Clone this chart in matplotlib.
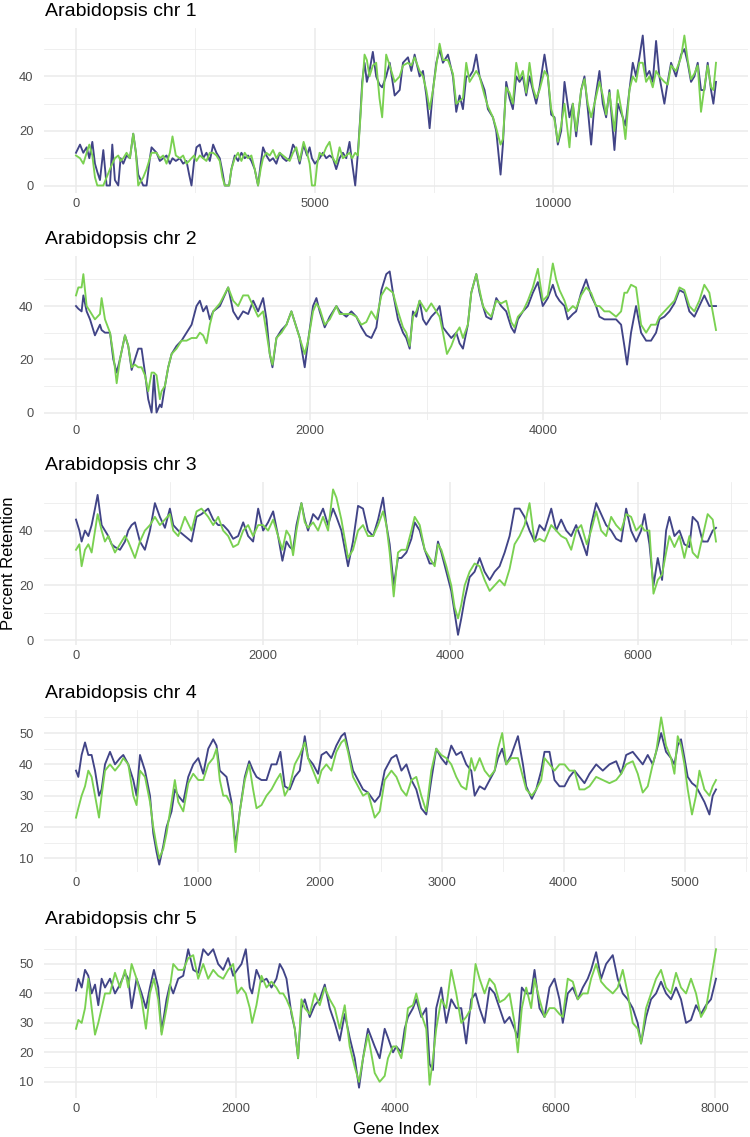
import matplotlib
matplotlib.use("Agg")
import matplotlib.pyplot as plt
from matplotlib.ticker import FixedLocator

plt.rcParams['font.family'] = ['Liberation Sans', 'DejaVu Sans']

BLUE = '#414487'
GREEN = '#7AD151'

# ---- chr 1 ----
chr1_idx = [0, 84, 153, 223, 279, 342, 397, 446, 502, 572, 641, 711, 760, 815, 885, 934, 990, 1059,
            1129, 1199, 1255, 1303, 1408, 1478, 1547, 1582, 1687, 1756, 1826, 1896, 1966, 2021, 2091,
            2175, 2244, 2314, 2370, 2419, 2474, 2523, 2593, 2663, 2732, 2802, 2872, 2941, 3011, 3067,
            3116, 3206, 3255, 3325, 3394, 3464, 3534, 3603, 3673, 3743, 3813, 3868, 3917, 3987, 4057,
            4126, 4196, 4266, 4336, 4405, 4475, 4545, 4614, 4684, 4767, 4837, 4893, 4941, 5004, 5053,
            5102, 5171, 5241, 5311, 5381, 5450, 5520, 5590, 5660, 5729, 5785, 5848, 5904, 5953, 5994,
            6043, 6092, 6147, 6217, 6287, 6356, 6412, 6496, 6570, 6674, 6779, 6848, 6953, 7023, 7092,
            7197, 7267, 7337, 7406, 7476, 7546, 7615, 7685, 7790, 7895, 7964, 8034, 8104, 8173, 8243,
            8313, 8383, 8452, 8557, 8627, 8732, 8801, 8892, 8941, 9010, 9080, 9150, 9220, 9289, 9359,
            9429, 9498, 9568, 9638, 9708, 9812, 9882, 9952, 10022, 10091, 10161, 10231, 10335, 10405,
            10475, 10580, 10649, 10719, 10789, 10859, 10963, 11033, 11103, 11172, 11277, 11347, 11451,
            11507, 11591, 11661, 11730, 11800, 11870, 11940, 12009, 12079, 12149, 12218, 12323, 12393,
            12463, 12567, 12672, 12742, 12811, 12881, 12951, 13021, 13090, 13160, 13230, 13300, 13349,
            13404]
chr1_blue = [12, 15, 12, 14, 10, 16, 8, 5, 2, 13, 0, 0, 15, 2, 0, 10, 8, 11,
             10, 19, 12, 4, 0, 0, 10, 14, 12, 9, 10, 11, 8, 10, 9,
             10, 8, 9, 4, 0, 9, 14, 15, 10, 12, 9, 15, 12, 10, 5,
             0, 0, 6, 11, 9, 12, 10, 11, 9, 6, 0, 8, 14, 11, 9,
             10, 8, 12, 10, 9, 10, 15, 13, 8, 15, 11, 14, 10, 8, 9,
             10, 12, 10, 11, 10, 6, 10, 12, 10, 16, 8, 0, 12, 25, 38,
             45, 38, 42, 49, 40, 37, 36, 40, 45, 33, 35, 45, 47, 42, 48,
             40, 42, 33, 21, 35, 45, 50, 45, 48, 40, 27, 33, 28, 40, 40,
             42, 48, 40, 35, 28, 25, 20, 4, 15, 38, 32, 28, 40, 38, 40,
             33, 40, 35, 30, 36, 48, 40, 26, 25, 15, 20, 38, 25, 30,
             18, 35, 40, 28, 15, 30, 42, 30, 25, 35, 13, 30, 25,
             22, 35, 45, 40, 47, 55, 40, 42, 38, 53, 40, 30, 38,
             45, 40, 48, 50, 45, 38, 40, 45, 35, 35, 45, 35, 30,
             38]
chr1_green = [11, 10, 8, 12, 15, 11, 3, 0, 0, 0, 3, 6, 8, 10, 11, 9, 10, 12,
              10, 19, 12, 0, 3, 6, 10, 12, 12, 10, 11, 8, 12, 18, 11,
              10, 11, 8, 9, 10, 11, 9, 11, 10, 9, 12, 12, 11, 9, 3,
              0, 0, 6, 10, 12, 9, 12, 10, 11, 6, 0, 6, 10, 12, 11,
              13, 10, 12, 11, 10, 9, 12, 14, 9, 16, 12, 8, 0, 0, 8,
              12, 11, 14, 16, 10, 8, 14, 10, 11, 12, 10, 12, 11, 24, 36,
              48, 46, 40, 44, 45, 32, 25, 48, 44, 38, 40, 44, 45, 44, 47,
              42, 40, 35, 28, 35, 44, 52, 46, 46, 41, 30, 31, 32, 45, 38,
              40, 42, 40, 33, 29, 25, 21, 15, 17, 36, 34, 30, 45, 39, 42,
              34, 45, 36, 32, 35, 42, 40, 28, 24, 16, 22, 30, 14, 30,
              20, 35, 39, 30, 25, 30, 38, 33, 26, 34, 20, 35, 25,
              17, 35, 40, 38, 45, 45, 38, 40, 36, 42, 40, 38, 37,
              44, 42, 47, 55, 46, 39, 41, 44, 27, 36, 44, 36, 35,
              45]

# ---- chr 2 ----
chr2_idx = [0, 20, 48, 63, 91, 120, 162, 205, 219, 248, 291, 319, 348, 376, 419, 447, 476, 504, 533,
            561, 590, 618, 647, 667, 689, 718, 732, 761, 789, 818, 860, 903, 946, 989, 1031, 1060,
            1088, 1117, 1145, 1174, 1231, 1302, 1345, 1387, 1430, 1473, 1516, 1558, 1601, 1630, 1658,
            1681, 1715, 1758, 1801, 1843, 1886, 1915, 1957, 1986, 2028, 2057, 2085, 2128, 2171, 2228,
            2256, 2313, 2356, 2399, 2442, 2484, 2527, 2570, 2613, 2655, 2684, 2712, 2755, 2798, 2826,
            2855, 2883, 2912, 2940, 2969, 2997, 3040, 3083, 3111, 3140, 3174, 3211, 3254, 3282, 3311,
            3353, 3382, 3425, 3453, 3482, 3510, 3553, 3596, 3638, 3681, 3724, 3752, 3781, 3824, 3866,
            3909, 3952, 3994, 4037, 4080, 4108, 4137, 4180, 4208, 4251, 4279, 4322, 4365, 4407, 4450,
            4479, 4521, 4564, 4621, 4664, 4692, 4715, 4749, 4792, 4835, 4878, 4920, 4963, 4992, 5034,
            5077, 5120, 5163, 5205, 5248, 5291, 5333, 5376, 5419, 5447, 5476]
chr2_blue = [40, 39, 38, 44, 38, 35, 29, 33, 31, 30, 30, 20, 15, 20, 29, 25, 16, 20, 24,
             24, 15, 5, 0, 14, 0, 3, 2, 10, 17, 22, 25, 27, 30, 33, 40, 42,
             38, 40, 35, 38, 40, 47, 38, 35, 38, 37, 42, 38, 43, 35, 22,
             17, 28, 31, 33, 38, 32, 28, 17, 27, 40, 43, 38, 32, 36, 40,
             38, 36, 38, 36, 32, 29, 28, 32, 46, 52, 53, 45, 35, 30, 28,
             24, 38, 36, 42, 35, 33, 36, 38, 40, 32, 30, 28, 30, 26, 24,
             33, 45, 52, 45, 40, 36, 35, 43, 40, 38, 32, 30, 35, 38, 40,
             45, 49, 40, 43, 48, 44, 42, 40, 35, 37, 38, 45, 50, 44, 40,
             36, 35, 35, 35, 33, 25, 18, 30, 40, 30, 27, 27, 30, 35, 36,
             38, 41, 46, 45, 38, 36, 40, 44, 40, 40, 40]
chr2_green = [44, 47, 47, 52, 40, 38, 35, 37, 43, 35, 30, 22, 11, 20, 29, 25, 17, 18, 17,
              17, 14, 8, 15, 15, 14, 5, 8, 10, 17, 22, 24, 27, 27, 28, 28, 30,
              29, 26, 33, 38, 41, 47, 42, 40, 44, 44, 40, 36, 38, 30, 22,
              18, 28, 30, 33, 38, 32, 28, 22, 27, 38, 41, 39, 33, 35, 40,
              37, 37, 37, 36, 33, 34, 38, 35, 44, 47, 46, 45, 38, 32, 30,
              25, 36, 38, 42, 40, 38, 41, 38, 36, 30, 22, 25, 30, 32, 28,
              33, 45, 52, 46, 40, 38, 36, 42, 41, 42, 34, 32, 36, 38, 42,
              47, 54, 42, 44, 56, 50, 46, 42, 38, 40, 39, 44, 47, 45, 40,
              40, 38, 38, 36, 38, 45, 45, 48, 47, 33, 30, 33, 33, 36, 38,
              40, 42, 47, 46, 40, 38, 42, 48, 45, 38, 31]

# ---- chr 3 ----
chr3_idx = [0, 36, 60, 96, 132, 167, 203, 231, 274, 309, 345, 381, 416, 470, 523, 558, 594, 630,
            683, 736, 790, 843, 896, 950, 1003, 1039, 1092, 1163, 1234, 1288, 1341, 1412, 1466, 1519,
            1572, 1626, 1679, 1732, 1786, 1839, 1892, 1946, 1999, 2052, 2106, 2159, 2205, 2248, 2284,
            2319, 2355, 2408, 2444, 2479, 2533, 2586, 2639, 2693, 2746, 2782, 2835, 2906, 2959, 3013,
            3066, 3119, 3174, 3227, 3280, 3316, 3351, 3394, 3440, 3476, 3529, 3583, 3618, 3672, 3725,
            3778, 3832, 3867, 3903, 3956, 4009, 4045, 4081, 4116, 4152, 4205, 4258, 4312, 4365, 4419,
            4472, 4525, 4579, 4632, 4685, 4739, 4792, 4845, 4899, 4952, 5005, 5077, 5130, 5183, 5237,
            5290, 5343, 5397, 5457, 5503, 5557, 5610, 5663, 5717, 5770, 5824, 5877, 5930, 5984, 6037,
            6073, 6126, 6169, 6215, 6261, 6304, 6339, 6393, 6446, 6499, 6553, 6588, 6642, 6695, 6748,
            6802, 6837]
chr3_blue = [44, 40, 36, 40, 38, 42, 48, 53, 42, 40, 38, 35, 34, 33, 36, 40, 42, 43,
             36, 33, 40, 50, 45, 41, 48, 42, 40, 38, 36, 45, 46, 48, 44, 42,
             42, 40, 37, 38, 43, 38, 36, 48, 40, 43, 47, 38, 29, 36, 34,
             33, 42, 50, 44, 40, 46, 44, 48, 42, 48, 45, 40, 27, 36, 49,
             48, 40, 38, 44, 52, 42, 35, 20, 30, 30, 32, 37, 43, 40, 33,
             28, 28, 36, 32, 25, 18, 10, 2, 8, 15, 23, 25, 30, 25, 22,
             25, 27, 32, 38, 48, 48, 45, 40, 36, 42, 40, 48, 40, 44, 40,
             38, 42, 37, 31, 42, 50, 46, 42, 40, 37, 36, 48, 40, 36, 40,
             46, 35, 20, 30, 22, 40, 45, 38, 40, 35, 34, 45, 43, 36, 36,
             40, 41]
chr3_green = [33, 35, 27, 33, 35, 32, 40, 46, 40, 36, 38, 35, 32, 35, 38, 36, 33, 30,
              36, 40, 42, 45, 42, 44, 46, 40, 38, 45, 40, 47, 48, 45, 42, 45,
              40, 38, 34, 35, 40, 42, 38, 42, 42, 40, 44, 38, 33, 40, 38,
              31, 40, 50, 43, 41, 43, 40, 45, 40, 55, 52, 44, 30, 33, 40,
              42, 38, 38, 42, 47, 42, 32, 16, 32, 33, 33, 40, 45, 42, 33,
              30, 27, 35, 33, 27, 20, 12, 8, 13, 20, 25, 28, 27, 22, 18,
              20, 22, 20, 26, 35, 38, 42, 50, 36, 37, 36, 42, 40, 38, 37,
              33, 40, 42, 35, 40, 47, 40, 38, 45, 42, 40, 46, 45, 40, 42,
              40, 40, 17, 22, 24, 32, 38, 34, 38, 30, 38, 32, 30, 38, 46,
              44, 36]

# ---- chr 4 ----
chr4_idx = [0, 19, 46, 74, 101, 128, 156, 189, 210, 238, 279, 320, 361, 388, 429, 470, 497, 525,
            566, 607, 634, 661, 683, 716, 743, 784, 811, 839, 880, 921, 962, 1003, 1044, 1085, 1126,
            1153, 1180, 1208, 1235, 1276, 1309, 1344, 1385, 1421, 1453, 1481, 1522, 1563, 1604, 1645,
            1677, 1713, 1754, 1795, 1836, 1877, 1904, 1945, 1986, 2014, 2054, 2095, 2136, 2177, 2205,
            2232, 2273, 2314, 2355, 2396, 2451, 2492, 2533, 2588, 2629, 2670, 2711, 2752, 2792, 2833,
            2874, 2915, 2956, 2997, 3038, 3079, 3120, 3161, 3202, 3243, 3271, 3312, 3353, 3394, 3435,
            3462, 3497, 3530, 3571, 3626, 3667, 3694, 3740, 3776, 3817, 3844, 3885, 3926, 3967, 4008,
            4049, 4090, 4131, 4172, 4213, 4268, 4322, 4377, 4432, 4473, 4514, 4568, 4609, 4650, 4691,
            4732, 4760, 4801, 4841, 4882, 4910, 4937, 4964, 4992, 5019, 5054, 5087, 5115, 5156, 5197,
            5224, 5251]
chr4_blue = [38, 36, 43, 47, 43, 43, 38, 30, 32, 40, 44, 40, 42, 43, 40, 35, 30, 43,
             38, 30, 18, 12, 8, 14, 20, 25, 32, 30, 28, 36, 40, 42, 37, 45, 48,
             46, 38, 37, 36, 28, 14, 25, 36, 41, 38, 36, 35, 35, 40, 40,
             44, 33, 32, 36, 38, 49, 42, 40, 37, 43, 44, 42, 46, 49, 50,
             45, 38, 35, 32, 31, 28, 30, 38, 42, 43, 38, 40, 35, 32, 26,
             24, 35, 45, 42, 40, 46, 43, 44, 40, 38, 30, 33, 32, 35, 38,
             42, 45, 40, 43, 49, 40, 33, 29, 32, 38, 44, 44, 35, 33, 33,
             36, 38, 36, 34, 37, 40, 38, 40, 41, 37, 43, 44, 42, 40, 43,
             40, 44, 50, 44, 42, 40, 46, 48, 42, 36, 34, 33, 31, 28, 24,
             30, 32]
chr4_green = [23, 26, 30, 33, 38, 36, 30, 23, 30, 38, 40, 38, 40, 42, 40, 30, 27, 38,
              36, 28, 20, 14, 10, 13, 18, 28, 35, 28, 25, 34, 37, 35, 35, 40, 42,
              45, 35, 30, 30, 27, 12, 25, 35, 40, 32, 26, 27, 30, 32, 35,
              37, 30, 33, 40, 43, 47, 42, 38, 34, 38, 40, 38, 44, 47, 48,
              44, 36, 33, 30, 31, 23, 25, 35, 38, 36, 32, 30, 35, 36, 30,
              25, 38, 45, 43, 42, 40, 36, 33, 32, 42, 38, 42, 38, 36, 38,
              45, 50, 40, 42, 42, 36, 32, 30, 32, 35, 42, 40, 38, 40, 40,
              38, 38, 32, 32, 33, 36, 35, 34, 35, 37, 40, 41, 37, 31, 33,
              40, 44, 55, 46, 42, 37, 49, 46, 40, 32, 24, 30, 38, 32, 30,
              33, 35]

# ---- chr 5 ----
chr5_idx = [0, 29, 71, 113, 154, 196, 238, 279, 321, 363, 425, 488, 550, 613, 654, 696, 758, 821,
            875, 925, 975, 1029, 1071, 1133, 1175, 1217, 1279, 1342, 1404, 1467, 1529, 1592, 1654,
            1717, 1779, 1842, 1904, 1967, 2017, 2071, 2125, 2175, 2204, 2258, 2321, 2384, 2446, 2508,
            2550, 2592, 2634, 2696, 2738, 2779, 2821, 2863, 2925, 2988, 3050, 3113, 3175, 3238, 3300,
            3363, 3425, 3488, 3542, 3592, 3654, 3738, 3800, 3863, 3904, 3967, 4008, 4071, 4113, 4154,
            4217, 4258, 4321, 4383, 4425, 4467, 4508, 4571, 4633, 4696, 4758, 4821, 4883, 4946, 5000,
            5050, 5113, 5175, 5238, 5300, 5363, 5425, 5488, 5529, 5579, 5634, 5696, 5738, 5800, 5863,
            5925, 5988, 6050, 6092, 6154, 6217, 6279, 6342, 6404, 6446, 6509, 6571, 6634, 6717, 6779,
            6842, 6904, 6967, 7029, 7071, 7134, 7196, 7259, 7321, 7384, 7446, 7509, 7571, 7634, 7696,
            7759, 7821, 7884, 7946, 8009]
chr5_blue = [41, 45, 42, 48, 46, 40, 43, 36, 45, 42, 45, 40, 43, 47, 45, 35, 45, 40,
             35, 42, 48, 42, 27, 38, 43, 40, 45, 46, 55, 48, 47, 55, 53,
             55, 50, 48, 52, 46, 48, 50, 55, 42, 40, 48, 44, 45, 42, 45,
             50, 48, 45, 33, 28, 18, 35, 38, 32, 36, 38, 43, 35, 30, 24,
             33, 25, 18, 8, 18, 28, 22, 18, 28, 25, 20, 22, 20, 28, 32,
             35, 38, 32, 35, 16, 14, 35, 42, 30, 38, 35, 35, 23, 38, 40,
             35, 30, 42, 40, 35, 30, 32, 28, 25, 42, 40, 40, 48, 35, 32,
             42, 45, 38, 30, 40, 42, 38, 42, 45, 48, 54, 45, 50, 53, 45,
             40, 38, 35, 30, 23, 32, 38, 40, 44, 40, 38, 42, 38, 30, 31,
             36, 33, 36, 38, 45]
chr5_green = [28, 31, 30, 35, 45, 35, 26, 30, 35, 40, 40, 47, 42, 48, 42, 50, 45, 38,
              28, 40, 45, 38, 26, 35, 42, 50, 48, 48, 52, 53, 45, 50, 45,
              48, 46, 45, 48, 50, 40, 42, 40, 35, 30, 36, 46, 42, 44, 42,
              40, 40, 38, 34, 28, 18, 38, 35, 33, 40, 36, 42, 38, 35, 28,
              36, 22, 15, 10, 18, 26, 13, 10, 12, 18, 22, 22, 18, 25, 35,
              36, 40, 33, 28, 9, 18, 28, 38, 35, 48, 40, 30, 32, 35, 50,
              45, 40, 45, 43, 37, 38, 40, 30, 20, 35, 42, 35, 45, 38, 32,
              35, 35, 33, 32, 45, 44, 38, 40, 40, 45, 50, 44, 42, 40, 42,
              48, 40, 30, 28, 23, 35, 40, 45, 48, 42, 40, 47, 42, 40, 45,
              40, 32, 35, 45, 55]

titles = ["Arabidopsis chr 1", "Arabidopsis chr 2", "Arabidopsis chr 3",
          "Arabidopsis chr 4", "Arabidopsis chr 5"]
x_major = [[0, 5000, 10000], [0, 2000, 4000], [0, 2000, 4000, 6000],
           [0, 1000, 2000, 3000, 4000, 5000], [0, 2000, 4000, 6000, 8000]]
x_minor = [[2500, 7500, 12500], [1000, 3000, 5000], [1000, 3000, 5000, 7000],
           [500, 1500, 2500, 3500, 4500, 5500], [1000, 3000, 5000, 7000]]
y_major = [[0, 20, 40], [0, 20, 40], [0, 20, 40], [10, 20, 30, 40, 50], [10, 20, 30, 40, 50]]
y_minor = [[10, 30, 50], [10, 30, 50], [10, 30, 50], [15, 25, 35, 45, 55], [15, 25, 35, 45, 55]]
y_lims = [(-2.75, 57.75), (-2.8, 58.8), (-1.7, 57.7), (5.65, 57.35), (4.5, 59.5)]

series = [(chr1_idx, chr1_blue, chr1_green), (chr2_idx, chr2_blue, chr2_green),
          (chr3_idx, chr3_blue, chr3_green), (chr4_idx, chr4_blue, chr4_green),
          (chr5_idx, chr5_blue, chr5_green)]

W, H = 750, 1137
fig = plt.figure(figsize=(W / 100, H / 100), dpi=100)
fig.patch.set_facecolor('white')

left_px, right_px = 44, 748
tops = [28, 256, 482, 710, 936]
bottoms = [193, 420, 645, 872, 1098]

for i, (idx, blue, green) in enumerate(series):
    top, bot = tops[i], bottoms[i]
    ax = fig.add_axes([left_px / W, 1 - bot / H, (right_px - left_px) / W, (bot - top) / H])
    ax.plot(idx, blue, color=BLUE, lw=1.35, solid_joinstyle='round', zorder=3)
    ax.plot(idx, green, color=GREEN, lw=1.35, solid_joinstyle='round', zorder=4)

    span = max(idx) - min(idx)
    ax.set_xlim(min(idx) - 0.05 * span, max(idx) + 0.05 * span)
    ax.set_ylim(*y_lims[i])

    ax.xaxis.set_major_locator(FixedLocator(x_major[i]))
    ax.xaxis.set_minor_locator(FixedLocator(x_minor[i]))
    ax.yaxis.set_major_locator(FixedLocator(y_major[i]))
    ax.yaxis.set_minor_locator(FixedLocator(y_minor[i]))
    ax.grid(which='major', color='#EBEBEB', lw=1.1, zorder=0)
    ax.grid(which='minor', color='#EBEBEB', lw=0.55, zorder=0)
    ax.set_axisbelow(True)

    ax.tick_params(which='both', length=0, labelsize=9.3, labelcolor='#4D4D4D')
    ax.tick_params(axis='x', pad=3.5)
    ax.tick_params(axis='y', pad=7.5)
    for s in ax.spines.values():
        s.set_visible(False)

    fig.text(45 / W, 1 - (top - 12.5) / H, titles[i], fontsize=14, ha='left', va='baseline')

fig.text(9 / W, 1 - 563 / H, "Percent Retention", rotation=90, fontsize=12,
         ha='center', va='center')
fig.text(396 / W, 1 - 1134 / H, "Gene Index", fontsize=12, ha='center', va='baseline')

fig.savefig("out.png", dpi=100, facecolor='white')
